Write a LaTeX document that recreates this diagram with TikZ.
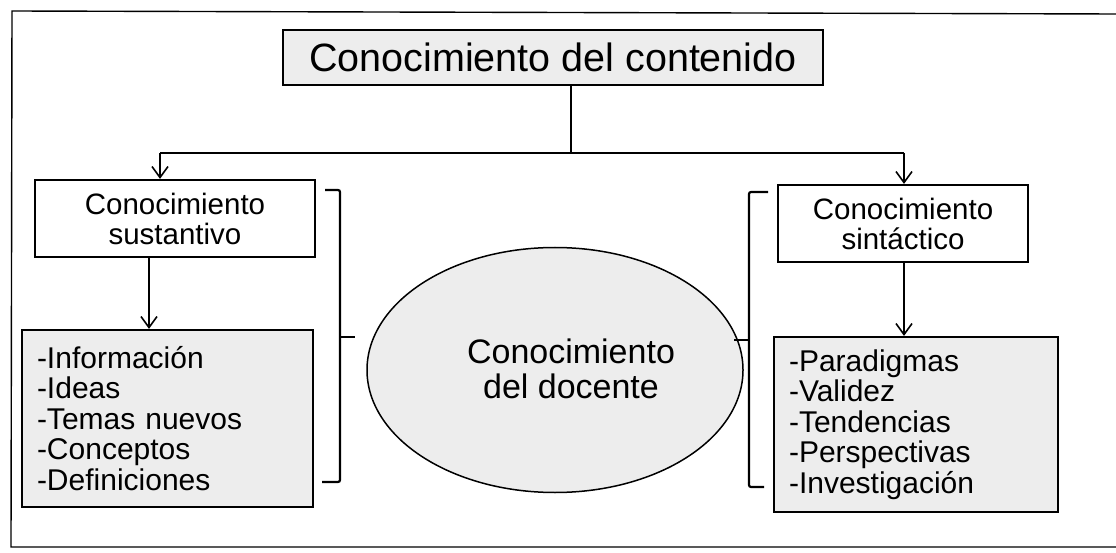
\documentclass[tikz,border=0pt]{standalone}
\usepackage{fontspec}
\setmainfont{Liberation Sans}
\usetikzlibrary{shapes.geometric, positioning, arrows.meta}
\tikzset{
    bloque/.style={rectangle, draw=black, line width=2.2pt, inner sep=0pt, align=center},
    titulo/.style={bloque, fill=gray!14, minimum width=540pt, minimum height=55pt,
        font=\fontsize{39.5}{41}\selectfont},
    rama/.style={bloque, fill=white, minimum height=77pt,
        font=\fontsize{29.5}{30}\selectfont},
    lista/.style={bloque, fill=gray!14, align=left, inner xsep=15pt,
        font=\fontsize{30}{30.5}\selectfont},
    elipse/.style={draw=black, ellipse, line width=1.5pt, fill=gray!14, inner sep=0pt},
    flecha/.style={line width=2pt, -{Straight Barb[length=11pt, width=16pt, line width=1.6pt]}},
    linea/.style={line width=2pt},
    llave/.style={line width=2.2pt, rounded corners=2pt},
    conexion/.style={coordinate}}

\begin{document}
\begin{tikzpicture}[x=1pt, y=-1pt]
    \useasboundingbox (0,0) rectangle (1116,553);
    % Marco
    \draw[line width=1.4pt] (1116,14) -- (12,11) -- (11,547) -- (1116,547);

    % Nodos
    \node (contenido) [titulo] at (553,57.5) {Conocimiento del contenido};
    \node (sustantivo) [rama, minimum width=280pt] at (175,218.5) {Conocimiento\\sustantivo};
    \node (sintactico) [rama, minimum width=250pt] at (903,223.5) {Conocimiento\\sint\'actico};
    \node (datos) [lista, text width=261pt, minimum height=177pt] at (167.5,418.5)
        {-Informaci\'on\\-Ideas\\-Temas nuevos\\-Conceptos\\-Definiciones};
    \node (saberes) [lista, text width=254pt, minimum height=175pt] at (916,424.5)
        {-Paradigmas\\-Validez\\-Tendencias\\-Perspectivas\\-Investigaci\'on};
    \node (docente) [elipse, minimum width=376pt, minimum height=245pt] at (555,370) {};
    \node (docente-texto) [font=\fontsize{34}{35}\selectfont, align=center] at (571,369)
        {Conocimiento\\del docente};

    % Conexiones
    \node (c0) [conexion] at (571,153) {};
    \node (c1) [conexion] at (160,153) {};
    \node (c2) [conexion] at (904,153) {};
    \node (c3) [conexion] at (149,0) {};
    \draw[linea] (c0 |- contenido.south) -- (c0);
    \draw[linea] (c1) -- (c2);
    \draw[flecha] (c1) -- (c1 |- sustantivo.north);
    \draw[flecha] (c2) -- (c2 |- sintactico.north);
    \draw[flecha] (c3 |- sustantivo.south) -- (c3 |- datos.north);
    \draw[flecha] (sintactico.south -| c2) -- (c2 |- saberes.north);

    % Llaves
    \node (ll1) [conexion] at (340,337) {};
    \node (ll2) [conexion] at (749,340) {};
    \draw[llave] (325,190) -- (ll1 |- 0,190) -- (ll1 |- 0,482) -- (322,482);
    \draw[linea] (ll1) -- ++(15,0);
    \draw[llave] (768,192) -- (ll2 |- 0,192) -- (ll2 |- 0,487) -- (764,487);
    \draw[linea] (ll2) -- ++(-15,0);
\end{tikzpicture}
\end{document}
